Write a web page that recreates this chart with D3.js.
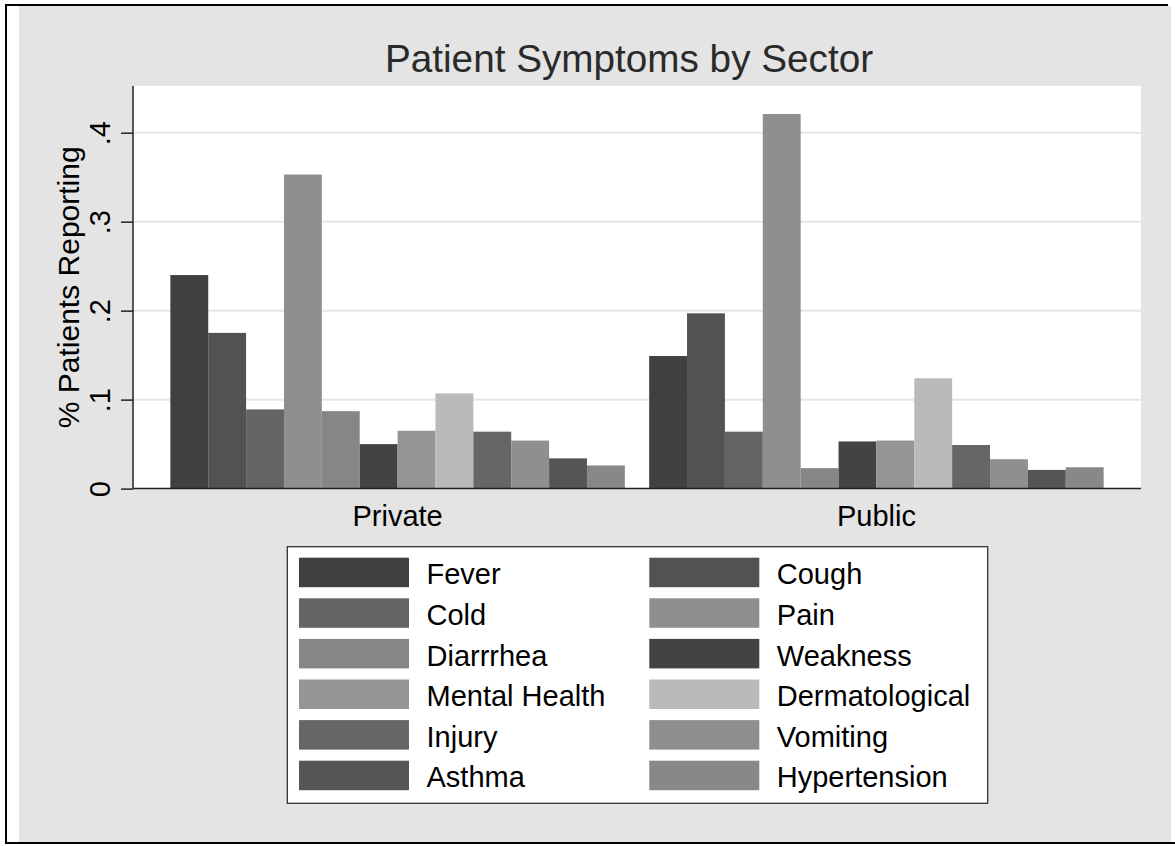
<!DOCTYPE html>
<html>
<head>
<meta charset="utf-8">
<script src="https://cdn.jsdelivr.net/npm/d3@7"></script>
<style>
	body { margin: 0; background: #fff; }
	text { font-family: "Liberation Sans", Arial, sans-serif; }
</style>
</head>
<body>
<svg width="1175" height="846"></svg>
<script>
// data
var sectors = ["Private", "Public"];
var symptoms = ["Fever", "Cough", "Cold", "Pain", "Diarrrhea", "Weakness",
	"Mental Health", "Dermatological", "Injury", "Vomiting", "Asthma", "Hypertension"];
var privateVals = [0.240, 0.175, 0.089, 0.353, 0.087, 0.050, 0.065, 0.107, 0.064, 0.054, 0.034, 0.026];
var publicVals = [0.149, 0.197, 0.064, 0.421, 0.023, 0.053, 0.054, 0.124, 0.049, 0.033, 0.021, 0.024];
var yTicks = [0, 0.1, 0.2, 0.3, 0.4];
var yTickLabels = ["0", ".1", ".2", ".3", ".4"];

// styles
var barColors = ["#404040", "#525252", "#646464", "#8f8f8f", "#868686", "#434343",
	"#959595", "#bababa", "#666666", "#8f8f8f", "#555555", "#888888"];

var PLOT_LEFT = 133, PLOT_RIGHT = 1141, PLOT_TOP = 86, PLOT_BOTTOM = 488.6;
var LABEL_SIZE = "29px";

var svg = d3.select("svg");

// outer frame
svg.append("rect").attr("x", 19).attr("y", 6).attr("width", 1152).attr("height", 836).attr("fill", "#e4e4e4");
svg.append("line").attr("x1", 5).attr("x2", 1168).attr("y1", 5).attr("y2", 5).attr("stroke", "#000").attr("stroke-width", 2);
svg.append("line").attr("x1", 6).attr("x2", 6).attr("y1", 4).attr("y2", 843).attr("stroke", "#000").attr("stroke-width", 2);
svg.append("line").attr("x1", 5).attr("x2", 1175).attr("y1", 843).attr("y2", 843).attr("stroke", "#000").attr("stroke-width", 2);

// plot region
svg.append("rect")
	.attr("x", PLOT_LEFT).attr("y", PLOT_TOP)
	.attr("width", PLOT_RIGHT - PLOT_LEFT).attr("height", PLOT_BOTTOM - PLOT_TOP)
	.attr("fill", "#fff");

var x0 = d3.scaleBand()
	.domain(sectors)
	.range([PLOT_LEFT, PLOT_RIGHT])
	.paddingInner(0.0508)
	.paddingOuter(0.078);

var x1 = d3.scaleBand()
	.domain(symptoms)
	.range([0, x0.bandwidth()]);

var y = d3.scaleLinear()
	.domain([0, 0.4])
	.range([PLOT_BOTTOM, 132.7]);

// gridlines
svg.append("g").selectAll("line")
	.data(yTicks.filter(function(d) { return d > 0; }))
	.enter().append("line")
		.attr("x1", PLOT_LEFT).attr("x2", PLOT_RIGHT)
		.attr("y1", function(d) { return y(d); })
		.attr("y2", function(d) { return y(d); })
		.attr("stroke", "#e6e6e6")
		.attr("stroke-width", 2);

// bars
var rows = sectors.map(function(s, i) {
	var vals = i === 0 ? privateVals : publicVals;
	return { sector: s, values: symptoms.map(function(k, j) { return { key: k, value: vals[j], idx: j }; }) };
});

var groups = svg.append("g").selectAll("g")
	.data(rows)
	.enter().append("g")
		.attr("transform", function(d) { return "translate(" + x0(d.sector) + ",0)"; });

groups.selectAll("rect")
	.data(function(d) { return d.values; })
	.enter().append("rect")
		.attr("x", function(d) { return x1(d.key); })
		.attr("width", x1.bandwidth())
		.attr("y", function(d) { return y(d.value); })
		.attr("height", function(d) { return y(0) - y(d.value); })
		.attr("fill", function(d) { return barColors[d.idx]; });

// y axis
var yAxis = svg.append("g")
	.attr("transform", "translate(" + PLOT_LEFT + ",0)")
	.call(d3.axisLeft(y)
		.tickValues(yTicks)
		.tickSize(12)
		.tickFormat(function(d, i) { return yTickLabels[i]; }));

yAxis.select(".domain").remove();
yAxis.selectAll(".tick line").attr("stroke", "#222").attr("stroke-width", 1.5);
yAxis.selectAll(".tick text")
	.attr("transform", "rotate(-90)")
	.attr("x", 0)
	.attr("y", -23)
	.attr("dy", 0)
	.attr("text-anchor", "middle")
	.attr("fill", "#000")
	.style("font-size", LABEL_SIZE)
	.style("font-family", "'Liberation Sans', Arial, sans-serif");

svg.append("line")
	.attr("x1", PLOT_LEFT).attr("x2", PLOT_LEFT)
	.attr("y1", PLOT_TOP).attr("y2", PLOT_BOTTOM)
	.attr("stroke", "#222").attr("stroke-width", 1.5);
svg.append("line")
	.attr("x1", PLOT_LEFT).attr("x2", PLOT_RIGHT)
	.attr("y1", PLOT_BOTTOM).attr("y2", PLOT_BOTTOM)
	.attr("stroke", "#222").attr("stroke-width", 1.5);

// x category labels
svg.append("g").selectAll("text")
	.data(sectors)
	.enter().append("text")
		.attr("x", function(d) { return x0(d) + x0.bandwidth() / 2; })
		.attr("y", 526)
		.attr("text-anchor", "middle")
		.attr("font-size", LABEL_SIZE)
		.attr("fill", "#000")
		.text(function(d) { return d; });

// y title
svg.append("text")
	.attr("transform", "translate(79," + ((PLOT_TOP + PLOT_BOTTOM) / 2) + ") rotate(-90)")
	.attr("text-anchor", "middle")
	.attr("font-size", "30px")
	.attr("fill", "#000")
	.text("% Patients Reporting");

// title
svg.append("text")
	.attr("x", 629)
	.attr("y", 72)
	.attr("text-anchor", "middle")
	.attr("font-size", "38.7px")
	.attr("fill", "#2a2a2a")
	.text("Patient Symptoms by Sector");

// legend
var legend = svg.append("g");
legend.append("rect")
	.attr("x", 287.3).attr("y", 546.7)
	.attr("width", 700.4).attr("height", 256.6)
	.attr("fill", "#fff").attr("stroke", "#333").attr("stroke-width", 1.3);

var LEG_COLS = [299, 649.3];
var LEG_ROW0 = 557.7, LEG_STEP = 40.6, SW_W = 110, SW_H = 29.5;

var items = legend.selectAll("g.item")
	.data(symptoms)
	.enter().append("g")
		.attr("class", "item")
		.attr("transform", function(d, i) {
			return "translate(" + LEG_COLS[i % 2] + "," + (LEG_ROW0 + Math.floor(i / 2) * LEG_STEP) + ")";
		});

items.append("rect")
	.attr("width", SW_W).attr("height", SW_H)
	.attr("fill", function(d, i) { return barColors[i]; });

items.append("text")
	.attr("x", 127.5)
	.attr("y", SW_H / 2 + 12)
	.attr("font-size", LABEL_SIZE)
	.attr("fill", "#000")
	.text(function(d) { return d; });
</script>
</body>
</html>
